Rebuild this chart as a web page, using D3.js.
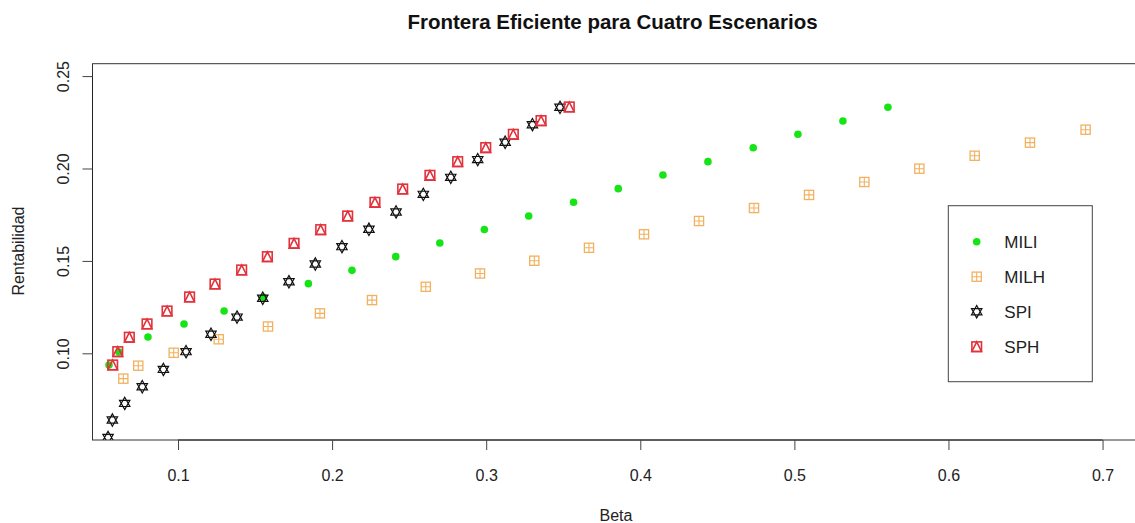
<!DOCTYPE html>
<html>
<head>
<meta charset="utf-8">
<script src="https://cdn.jsdelivr.net/npm/d3@7"></script>
<style>
  html, body { margin: 0; padding: 0; background: #fff; }
  svg { display: block; font-family: "Liberation Sans", Arial, Helvetica, sans-serif; }
</style>
</head>
<body>
<svg id="chart" width="1135" height="523"></svg>
<script>
// ---- data ----
const seriesNames = ["MILI", "MILH", "SPI", "SPH"];

const miliBeta = [0.0552, 0.0617, 0.0805, 0.1039, 0.1299, 0.1554, 0.1846, 0.2129, 0.2413, 0.2699,
                  0.2988, 0.3276, 0.3567, 0.3857, 0.4147, 0.4439, 0.4733, 0.5023, 0.5315, 0.5607];
const miliRet  = [0.0937, 0.1007, 0.1088, 0.1159, 0.1229, 0.1303, 0.1377, 0.1449, 0.1523, 0.1597,
                  0.1670, 0.1743, 0.1817, 0.1891, 0.1965, 0.2037, 0.2112, 0.2185, 0.2257, 0.2331];

const milhBeta = [0.0645, 0.0742, 0.0972, 0.1264, 0.1584, 0.1921, 0.2259, 0.2608, 0.2960, 0.3312,
                  0.3667, 0.4024, 0.4381, 0.4738, 0.5095, 0.5454, 0.5811, 0.6170, 0.6529, 0.6890];
const milhRet  = [0.0863, 0.0933, 0.1003, 0.1076, 0.1145, 0.1216, 0.1288, 0.1360, 0.1432, 0.1501,
                  0.1571, 0.1644, 0.1716, 0.1786, 0.1857, 0.1927, 0.1999, 0.2069, 0.2140, 0.2210];

const spiBeta  = [0.0546, 0.0574, 0.0654, 0.0768, 0.0905, 0.1052, 0.1214, 0.1383, 0.1550, 0.1720,
                  0.1891, 0.2064, 0.2239, 0.2415, 0.2592, 0.2770, 0.2945, 0.3123, 0.3300, 0.3479];
const spiRet   = [0.0545, 0.0639, 0.0729, 0.0819, 0.0913, 0.1009, 0.1103, 0.1196, 0.1298, 0.1387,
                  0.1483, 0.1577, 0.1671, 0.1765, 0.1860, 0.1952, 0.2048, 0.2142, 0.2237, 0.2331];

const sphBeta  = [0.0576, 0.0609, 0.0684, 0.0799, 0.0929, 0.1075, 0.1240, 0.1413, 0.1580, 0.1753,
                  0.1926, 0.2101, 0.2278, 0.2458, 0.2635, 0.2815, 0.2997, 0.3176, 0.3356, 0.3539];
const sphRet   = [0.0937, 0.1009, 0.1087, 0.1159, 0.1229, 0.1305, 0.1375, 0.1451, 0.1523, 0.1595,
                  0.1669, 0.1743, 0.1817, 0.1889, 0.1963, 0.2037, 0.2113, 0.2185, 0.2259, 0.2333];

const xTicks = [0.1, 0.2, 0.3, 0.4, 0.5, 0.6, 0.7];
const yTicks = [0.10, 0.15, 0.20, 0.25];
const xTickLabels = ["0.1", "0.2", "0.3", "0.4", "0.5", "0.6", "0.7"];
const yTickLabels = ["0.10", "0.15", "0.20", "0.25"];

const titleText = "Frontera Eficiente para Cuatro Escenarios";
const xLabel = "Beta";
const yLabel = "Rentabilidad";

// ---- layout ----
const W = 1135, H = 523;
const plot = { left: 92.5, right: 1140, top: 63.7, bottom: 440 };

const svg = d3.select("#chart");

const x = d3.scaleLinear().domain([0.0445, 0.7243]).range([plot.left, plot.right]);
const y = d3.scaleLinear().domain([0.0531, 0.2567]).range([plot.bottom, plot.top]);

const styles = {
  MILI: { color: "#17e417" },
  MILH: { color: "#f2b15f" },
  SPI:  { color: "#111111" },
  SPH:  { color: "#e2323c" }
};

// symbol drawers (R pch 16, 12, 11, 14)
function drawSymbol(g, name, cx, cy) {
  const c = styles[name].color;
  if (name === "MILI") {
    g.append("circle").attr("cx", cx).attr("cy", cy).attr("r", 3.8).attr("fill", c);
  } else if (name === "MILH") {
    const s = 4.6;
    g.append("rect").attr("x", cx - s).attr("y", cy - s).attr("width", 2 * s).attr("height", 2 * s)
      .attr("fill", "none").attr("stroke", c).attr("stroke-width", 1.3);
    g.append("path").attr("d", `M${cx - s},${cy}H${cx + s}M${cx},${cy - s}V${cy + s}`)
      .attr("fill", "none").attr("stroke", c).attr("stroke-width", 1.1);
  } else if (name === "SPI") {
    const w = 5.2, h = 6.2, b = 3.1;
    const d = `M${cx},${cy - h}L${cx + w},${cy + b}L${cx - w},${cy + b}Z` +
              `M${cx},${cy + h}L${cx + w},${cy - b}L${cx - w},${cy - b}Z`;
    g.append("path").attr("d", d).attr("fill", "none").attr("stroke", c).attr("stroke-width", 1.2);
  } else if (name === "SPH") {
    const s = 4.8;
    g.append("rect").attr("x", cx - s).attr("y", cy - s).attr("width", 2 * s).attr("height", 2 * s)
      .attr("fill", "none").attr("stroke", c).attr("stroke-width", 1.6);
    g.append("path").attr("d", `M${cx},${cy - s}L${cx + s},${cy + s}L${cx - s},${cy + s}Z`)
      .attr("fill", "none").attr("stroke", c).attr("stroke-width", 1.6);
  }
}

// clip to plot area
svg.append("defs").append("clipPath").attr("id", "clip")
  .append("rect").attr("x", plot.left).attr("y", plot.top)
  .attr("width", plot.right - plot.left).attr("height", plot.bottom - plot.top);

const pts = svg.append("g").attr("clip-path", "url(#clip)");
const series = [
  { name: "MILI", bx: miliBeta, ry: miliRet },
  { name: "MILH", bx: milhBeta, ry: milhRet },
  { name: "SPI",  bx: spiBeta,  ry: spiRet },
  { name: "SPH",  bx: sphBeta,  ry: sphRet }
];
series.forEach(s => {
  const g = pts.append("g").attr("class", "series-" + s.name);
  s.bx.forEach((b, i) => drawSymbol(g, s.name, x(b), y(s.ry[i])));
});

// box
svg.append("rect").attr("x", plot.left).attr("y", plot.top)
  .attr("width", plot.right - plot.left).attr("height", plot.bottom - plot.top)
  .attr("fill", "none").attr("stroke", "#333").attr("stroke-width", 1);

// axes
const fontSize = 16;
const xAxis = d3.axisBottom(x).tickValues(xTicks).tickFormat((d, i) => xTickLabels[i])
  .tickSize(10).tickSizeOuter(0).tickPadding(20);
const gx = svg.append("g").attr("transform", `translate(0,${plot.bottom})`).call(xAxis);
gx.select(".domain").attr("d", `M${x(xTicks[0])},0H${x(xTicks[xTicks.length - 1])}`).attr("stroke", "#222");
gx.selectAll(".tick line").attr("stroke", "#444");
gx.selectAll("text").attr("font-size", fontSize).attr("fill", "#222")
  .attr("font-family", "'Liberation Sans', Arial, sans-serif");

const yAxis = d3.axisLeft(y).tickValues(yTicks).tickFormat((d, i) => yTickLabels[i])
  .tickSize(10).tickSizeOuter(0);
const gy = svg.append("g").attr("transform", `translate(${plot.left},0)`).call(yAxis);
gy.select(".domain").attr("d", `M0,${y(yTicks[0])}V${y(yTicks[yTicks.length - 1])}`).attr("stroke", "#222");
gy.selectAll(".tick line").attr("stroke", "#444");
gy.selectAll("text").attr("font-size", fontSize).attr("fill", "#222")
  .attr("font-family", "'Liberation Sans', Arial, sans-serif")
  .attr("x", 0).attr("dy", 0).attr("text-anchor", "middle")
  .attr("transform", "translate(-24,0) rotate(-90)");

// title and labels
svg.append("text").attr("x", 612.5).attr("y", 29).attr("text-anchor", "middle")
  .attr("font-weight", "bold").attr("font-size", 20.5).attr("fill", "#111").text(titleText);
svg.append("text").attr("x", 616).attr("y", 521).attr("text-anchor", "middle")
  .attr("font-size", fontSize).attr("fill", "#222").text(xLabel);
svg.append("text").attr("transform", `translate(24,251) rotate(-90)`).attr("text-anchor", "middle")
  .attr("font-size", fontSize).attr("fill", "#222").text(yLabel);

// legend
const leg = svg.append("g");
leg.append("rect").attr("x", 948.3).attr("y", 205.7).attr("width", 144).attr("height", 176)
  .attr("fill", "#fff").attr("stroke", "#444").attr("stroke-width", 1);
const legRowY = d3.scalePoint().domain(seriesNames).range([241.7, 346.7]);
seriesNames.forEach(n => {
  drawSymbol(leg, n, 976.7, legRowY(n));
  leg.append("text").attr("x", 1004.3).attr("y", legRowY(n) + 6).attr("font-size", 17)
    .attr("fill", "#222").text(n);
});
</script>
</body>
</html>
